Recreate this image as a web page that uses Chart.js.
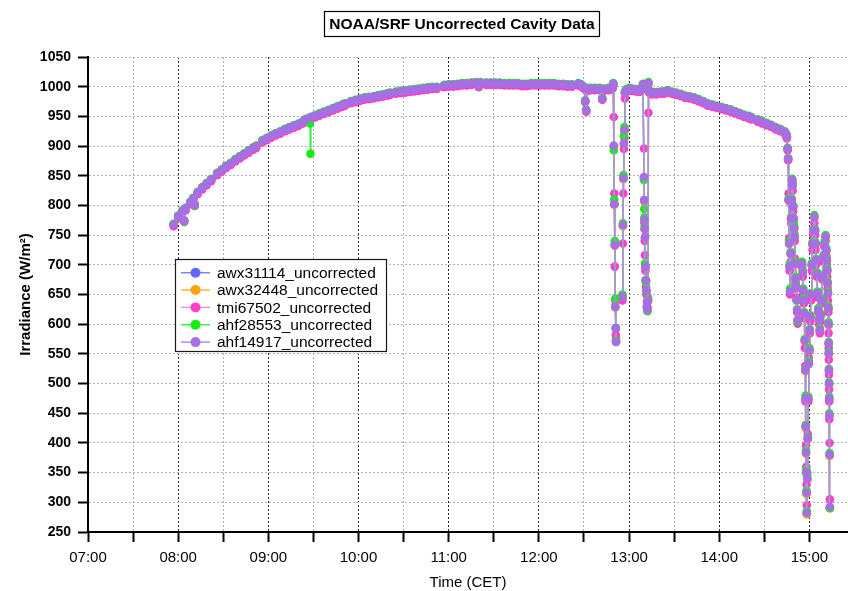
<!DOCTYPE html>
<html><head><meta charset="utf-8">
<script src="https://cdn.jsdelivr.net/npm/chart.js@4.4.1/dist/chart.umd.min.js"></script>
<style>html,body{margin:0;padding:0;background:#fff;}canvas{display:block;}</style>
</head><body>
<canvas id="c" width="848" height="591"></canvas>
<script>
const chartTitle = "NOAA/SRF Uncorrected Cavity Data";
const xTitle = "Time (CET)";
const yTitle = "Irradiance (W/m\u00B2)";
const xTickLabels = ["07:00","08:00","09:00","10:00","11:00","12:00","13:00","14:00","15:00"];
const xMinorTicks = ["07:30","08:30","09:30","10:30","11:30","12:30","13:30","14:30"];
const xRange = ["07:00","15:25:40"];
const yTicks = [250,300,350,400,450,500,550,600,650,700,750,800,850,900,950,1000,1050];
const seriesNames = ["awx31114_uncorrected","awx32448_uncorrected","tmi67502_uncorrected","ahf28553_uncorrected","ahf14917_uncorrected"];

const times = [
"07:57","08:00","08:03","08:04","08:05","08:08","08:10","08:11","08:13","08:16","08:19","08:22",
"08:24",
"08:26","08:29","08:32","08:35","08:38","08:41","08:44","08:47","08:50","08:52",
"08:54",
"08:56","08:59","09:02","09:05","09:08","09:11","09:14","09:17","09:20","09:23",
"09:24",
"09:25","09:27:40","09:28","09:28:20","09:31","09:34","09:37","09:40","09:43","09:46","09:49","09:51",
"09:53",
"09:55","09:58","10:01","10:04","10:07","10:10","10:13","10:16","10:19","10:21",
"10:23",
"10:25","10:28","10:31","10:34","10:37","10:40","10:43","10:46","10:49","10:52",
"10:54",
"10:57","11:00","11:03","11:06","11:09","11:12","11:15","11:18","11:20","11:21",
"11:23",
"11:25","11:28","11:31","11:34","11:37","11:40","11:43","11:46","11:49","11:52",
"11:53:30",
"11:55","11:58","12:01","12:04","12:07","12:10","12:13","12:16","12:19","12:22",
"12:24",
"12:26:10","12:28:10","12:30:10","12:30:50","12:31:30","12:32:10","12:34:10","12:37:10","12:40:10","12:42:10","12:43:10","12:46:10","12:48:10","12:49:10","12:49:30","12:49:50","12:50:10","12:50:30","12:50:50","12:51:10","12:51:20",
"12:53",
"12:55:35","12:55:55","12:56:15","12:56:35","12:56:55","12:57:15","12:58:15","13:00:15","13:02:15","13:04:15","13:06:15","13:07:45","13:09:15","13:09:55","13:10:05","13:10:15","13:10:25","13:10:35","13:10:55","13:11:15","13:11:35","13:11:55","13:12:15","13:12:35","13:12:55","13:13:15","13:15:15","13:18:15","13:21:15","13:23:15",
"13:24:15",
"13:25:20","13:28:20","13:31:20","13:34:20","13:37:20","13:40:20","13:43:20","13:46:20","13:49:20","13:52:20",
"13:53:50",
"13:55:25","13:58:25","14:01:25","14:04:25","14:07:25","14:10:25","14:13:25","14:16:25","14:19:25","14:21:25",
"14:23:25",
"14:25:30","14:28:30","14:31:30","14:34:30","14:37:30","14:40:30","14:43:30","14:44:30","14:45:00","14:45:30","14:45:50","14:46:10","14:46:30","14:46:50","14:47:10","14:47:30","14:47:50","14:48:10","14:48:30","14:48:50","14:49:10","14:49:30","14:49:50","14:50:10","14:50:30","14:50:50","14:51:10","14:51:30","14:51:50","14:52:10",
"14:53:30",
"14:55:05","14:55:35","14:55:55","14:56:15","14:56:35","14:56:55","14:57:15","14:57:25","14:57:35","14:57:45","14:57:55","14:58:05","14:58:15","14:58:35","14:58:55","14:59:15","14:59:35","14:59:55","15:00:15","15:00:35","15:01:05","15:01:35","15:02:05","15:02:35","15:03:15","15:03:45","15:04:05","15:04:25","15:04:55","15:05:25","15:05:55","15:06:25","15:06:55","15:07:25","15:08:05","15:08:45","15:09:25","15:10:05","15:10:45","15:11:15","15:11:35","15:11:50","15:12:05","15:12:20","15:12:35","15:12:45","15:12:50","15:12:55","15:13:00","15:13:05","15:13:10","15:13:15","15:13:25","15:13:35"
];

const awx31114 = [
768,782,791,775,795,805,812,802,822,830,837,844,
null,
854,860,866,871,877,882,887,892,897,900,
null,
909,913,917,921,924,928,931,934,937,941,
null,
945,947,948,949,951,954,957,960,963,966,969,971,
null,
975,977,979,981,982,983,985,986,988,989,
null,
991,992,993,994,995,996,997,998,999,999,
null,
1002,1003,1003,1004,1005,1005,1006,1007,1002,1007,
null,
1006,1006,1006,1006,1005,1005,1005,1005,1004,1004,
null,
1005,1005,1005,1005,1005,1005,1004,1004,1003,1003,
null,
1005,1003,999,976,961,996,997,997,997,980,996,997,998,1000,1005,900,803,735,630,594,571,
null,
645,766,845,904,926,990,994,997,996,995,994,995,1003,847,808,775,760,746,696,673,656,629,623,639,1005,993,990,990,991,991,
null,
993,991,989,987,984,983,981,978,975,971,
null,
969,967,965,963,961,958,955,952,950,948,
null,
944,941,938,935,931,928,924,920,916,896,879,809,736,697,655,719,778,809,843,834,798,778,761,747,702,677,663,641,624,607,
null,
701,687,656,640,617,572,522,474,426,383,350,315,281,339,407,474,533,555,589,611,649,699,734,757,780,757,735,707,684,651,623,606,589,614,639,679,713,734,747,724,707,690,668,651,626,599,567,550,522,499,474,446,379,291
];

const awx32448 = [
767,781,790,773,794,804,811,800,821,829,836,843,
null,
853,859,865,870,876,881,886,891,896,899,
null,
908,912,916,920,923,927,930,933,936,940,
null,
944,946,947,948,950,953,956,959,962,965,968,970,
null,
974,976,978,980,981,982,984,985,987,988,
null,
990,991,992,993,994,995,996,997,998,998,
null,
1001,1002,1002,1003,1004,1004,1005,1006,1001,1006,
null,
1005,1005,1005,1005,1004,1004,1004,1004,1003,1003,
null,
1004,1004,1004,1004,1004,1004,1003,1003,1002,1002,
null,
1004,1002,998,975,960,995,996,996,996,979,995,996,997,999,1004,899,801,732,628,592,570,
null,
644,765,844,903,925,989,993,996,995,994,993,994,1003,846,807,774,759,745,695,672,655,628,623,638,1004,992,989,989,990,990,
null,
992,990,988,986,983,982,980,977,974,970,
null,
968,966,964,962,960,957,954,951,949,947,
null,
943,940,937,934,930,927,923,919,915,895,878,808,735,696,654,718,777,808,842,833,797,777,760,746,701,676,662,640,623,606,
null,
700,686,655,639,616,571,521,473,425,382,349,314,280,338,406,473,532,554,588,610,648,698,733,756,779,756,734,706,683,650,622,605,588,613,638,678,712,733,746,723,706,689,667,650,625,598,566,549,521,498,473,445,378,290
];

const tmi67502 = [
765,779,788,772,792,802,809,799,819,827,834,841,
null,
851,857,863,868,874,879,884,889,894,897,
null,
906,910,914,918,921,925,928,931,934,938,
null,
942,944,945,946,948,951,954,957,960,963,966,968,
null,
972,974,976,978,979,980,982,983,985,986,
null,
988,989,990,991,992,993,994,995,996,996,
null,
999,1000,1000,1001,1002,1002,1003,1004,999,1004,
null,
1003,1003,1003,1003,1002,1002,1002,1002,1001,1001,
null,
1002,1002,1002,1002,1002,1002,1001,1001,1000,1000,
null,
1002,1000,996,974,958,993,994,994,994,978,993,994,995,997,1002,949,820,697,640,582,575,
null,
640,736,820,895,914,980,991,994,993,992,991,992,1001,896,809,770,740,716,690,663,650,638,628,645,956,990,987,987,988,988,
null,
990,988,986,984,981,980,978,975,972,968,
null,
966,964,962,960,958,955,952,949,947,945,
null,
941,938,935,932,928,925,921,917,913,893,876,820,745,690,650,705,770,800,835,825,790,770,752,740,710,670,660,645,620,601,
null,
695,680,650,635,610,560,530,470,430,396,360,330,295,350,415,470,544,560,585,605,640,690,725,750,770,750,725,700,680,645,620,600,585,605,635,675,705,730,740,715,700,680,660,640,620,585,560,540,515,490,470,440,400,305
];

const ahf28553 = [
769,783,792,773,796,806,813,800,823,831,838,845,
null,
855,861,867,872,878,883,888,893,898,901,
null,
910,914,918,922,925,929,932,935,938,942,
null,
946,938,887,949,952,955,958,961,964,967,970,972,
null,
976,978,980,982,983,984,986,987,989,990,
null,
992,993,994,995,996,997,998,999,1000,1000,
null,
1003,1004,1004,1005,1006,1006,1007,1008,1003,1008,
null,
1007,1007,1007,1007,1006,1006,1006,1006,1005,1005,
null,
1006,1006,1006,1006,1006,1006,1005,1005,1004,1004,
null,
1006,1004,1000,977,961,997,998,998,998,981,997,998,999,1001,1006,893,810,740,643,593,572,
null,
650,770,851,917,932,992,996,998,997,996,995,996,1005,843,794,780,765,702,674,670,655,628,622,642,1008,994,991,991,992,992,
null,
994,992,990,988,985,984,982,979,976,972,
null,
970,968,966,964,962,959,956,953,951,949,
null,
945,942,939,936,932,929,925,921,917,897,880,812,740,700,660,722,780,812,845,838,800,775,765,750,705,680,665,640,625,605,
null,
705,690,660,645,620,575,525,480,430,388,355,320,285,345,410,478,538,560,592,615,652,703,738,760,784,760,738,710,688,655,627,610,593,618,643,683,717,738,750,728,710,694,672,655,630,603,570,553,525,502,478,450,383,290
];

const ahf14917 = [
768,782,791,774,795,805,812,801,822,830,837,844,
null,
854,860,866,871,877,882,887,892,897,900,
null,
909,913,917,921,924,928,931,934,937,941,
null,
945,947,948,949,951,954,957,960,963,966,969,971,
null,
975,977,979,981,982,983,985,986,988,989,
null,
991,992,993,994,995,996,997,998,999,999,
null,
1002,1003,1003,1004,1005,1005,1006,1007,1002,1007,
null,
1006,1006,1006,1006,1005,1005,1005,1005,1004,1004,
null,
1005,1005,1005,1005,1005,1005,1004,1004,1003,1003,
null,
1005,1003,999,976,960,996,997,997,997,980,996,997,998,1000,1005,901,802,733,629,593,570,
null,
646,767,846,905,927,990,994,997,996,995,994,995,1004,848,809,776,761,747,697,674,657,630,624,640,1006,993,990,990,991,991,
null,
993,991,989,987,984,983,981,978,975,971,
null,
969,967,965,963,961,958,955,952,950,948,
null,
944,941,938,935,931,928,924,920,916,896,879,809,736,697,655,719,778,809,843,834,798,778,761,747,702,677,663,641,624,607,
null,
702,688,657,641,618,573,523,475,427,384,351,316,282,340,408,475,534,556,590,612,650,700,735,758,781,758,736,708,685,652,624,607,590,615,640,680,714,735,748,725,708,691,669,652,627,600,568,551,523,500,475,447,380,292
];

const FONT = "'Liberation Sans', Arial, Helvetica, sans-serif";
const toMin = s => { const p = s.split(':').map(Number); return p[0]*60 + p[1] + (p[2]||0)/60; };
const xs = times.map(toMin);
const fmt = v => { const h = Math.floor(v/60), m = Math.round(v%60); return String(h).padStart(2,'0') + ':' + String(m).padStart(2,'0'); };

const styles = [
  {dot:'#6464ff', line:'#7f7fff', order:5},
  {dot:'#ffa300', line:'#ffb43c', order:4},
  {dot:'#ff3ecb', line:'#ff8fdc', order:3},
  {dot:'#16ec16', line:'#3cf03c', order:2},
  {dot:'#a66fe4', line:'#b488ec', order:1}
];
const allSeries = [awx31114, awx32448, tmi67502, ahf28553, ahf14917];

const datasets = allSeries.map((vals, k) => ({
  label: seriesNames[k],
  order: styles[k].order,
  data: xs.map((x, i) => ({x: x, y: (vals[i] === undefined ? null : vals[i])})),
  borderColor: styles[k].line,
  backgroundColor: styles[k].dot,
  pointBackgroundColor: styles[k].dot,
  pointBorderWidth: 0,
  pointRadius: 4.3,
  pointHoverRadius: 4.3,
  borderWidth: 1.4,
  spanGaps: false,
  tension: 0
}));

const tickVals = xTickLabels.concat(xMinorTicks).map(toMin).sort((a,b)=>a-b);
const hourSet = new Set(xTickLabels.map(toMin));

const decor = {
  id: 'decor',
  afterDraw(chart) {
    const ctx = chart.ctx;
    ctx.save();
    ctx.font = "bold 15.5px " + FONT;
    const tw = ctx.measureText(chartTitle).width;
    const cx = 462;
    ctx.fillStyle = '#fff';
    ctx.fillRect(cx - tw/2 - 5, 11.5, tw + 10, 25);
    ctx.strokeStyle = '#000';
    ctx.lineWidth = 1.2;
    ctx.strokeRect(Math.round(cx - tw/2 - 5) + 0.5, 11.5, Math.round(tw + 10), 25);
    ctx.fillStyle = '#000';
    ctx.textAlign = 'center';
    ctx.textBaseline = 'middle';
    ctx.fillText(chartTitle, cx, 24.5);
    const lx = 175.5, ly = 259.5, lw = 211, lh = 92;
    ctx.fillStyle = '#fff';
    ctx.fillRect(lx, ly, lw, lh);
    ctx.strokeStyle = '#1a1a1a';
    ctx.lineWidth = 1.2;
    ctx.strokeRect(lx, ly, lw, lh);
    ctx.font = "15.5px " + FONT;
    ctx.textAlign = 'left';
    chart.data.datasets.forEach((ds, i) => {
      const y = 272.7 + i * 17.35;
      ctx.strokeStyle = ds.borderColor;
      ctx.lineWidth = 1.5;
      ctx.beginPath(); ctx.moveTo(181, y); ctx.lineTo(210, y); ctx.stroke();
      ctx.fillStyle = ds.pointBackgroundColor;
      ctx.beginPath(); ctx.arc(195.5, y, 5, 0, Math.PI*2); ctx.fill();
      ctx.fillStyle = '#000';
      ctx.fillText(ds.label, 217, y + 1);
    });
    ctx.restore();
  }
};

new Chart(document.getElementById('c'), {
  type: 'line',
  data: { datasets },
  plugins: [decor],
  options: {
    responsive: false,
    animation: false,
    devicePixelRatio: 1,
    layout: { autoPadding: false, padding: {top: 57, left: 0, right: 0, bottom: 0} },
    plugins: { legend: {display: false}, tooltip: {enabled: false}, title: {display: false} },
    scales: {
      x: {
        type: 'linear',
        min: toMin(xRange[0]), max: toMin(xRange[1]),
        afterBuildTicks: s => { s.ticks = tickVals.map(v => ({value: v})); },
        afterFit: s => { s.height = 59; s.paddingLeft = 0; s.paddingRight = 0; },
        ticks: {
          autoSkip: false, maxRotation: 0, minRotation: 0, padding: 7, color: '#000',
          font: {family: FONT, size: 15},
          callback: v => hourSet.has(v) ? fmt(v) : ''
        },
        grid: {
          color: c => (c.tick && hourSet.has(c.tick.value)) ? '#2a2a2a' : '#b2b2b2',
          lineWidth: 1, tickLength: 10, tickWidth: 2, tickColor: '#000'
        },
        border: { color: '#000', width: 2, dash: [2, 2] },
        title: { display: true, text: xTitle, color: '#000', font: {family: FONT, size: 15}, padding: {top: 0, bottom: -1} }
      },
      y: {
        min: yTicks[0], max: yTicks[yTicks.length-1],
        afterBuildTicks: s => { s.ticks = yTicks.map(v => ({value: v})); },
        afterFit: s => { s.width = 88; },
        ticks: { color: '#000', padding: 7, font: {family: FONT, size: 14, weight: 'bold'}, callback: v => String(v) },
        grid: { color: '#b2b2b2', lineWidth: 1, tickLength: 10, tickWidth: 2, tickColor: '#000' },
        border: { color: '#000', width: 2, dash: [2, 2] },
        title: { display: true, text: yTitle, color: '#000', font: {family: FONT, size: 15, weight: 'bold'}, padding: {top: 17, bottom: 0} }
      }
    }
  }
});
</script>
</body></html>
